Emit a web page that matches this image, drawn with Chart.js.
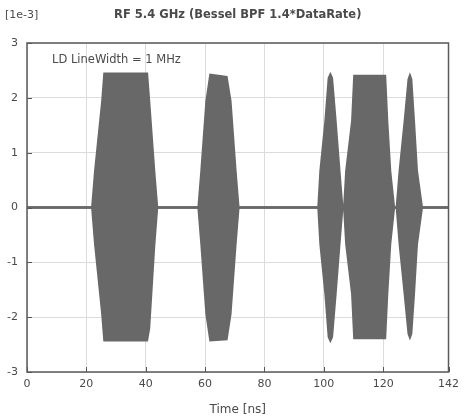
<!DOCTYPE html>
<html>
<head>
<meta charset="utf-8">
<script src="https://cdn.jsdelivr.net/npm/chart.js@4/dist/chart.umd.min.js"></script>
<style>
  html, body { margin: 0; padding: 0; background: #fff; }
  #wrap { width: 465px; height: 417px; }
</style>
</head>
<body>
<div id="wrap"><canvas id="rfChart"></canvas></div>
<script>
// envelope of the RF signal, amplitude in units of 1e-3
const timeNs = [0, 22.0, 23.0, 25.4, 26.1, 40.4, 41.1, 42.8, 43.8,
  57.8, 58.8, 60.5, 61.8, 67.2, 68.5, 70.2, 71.2,
  98.2, 98.9, 100.6, 101.7, 102.2, 102.7, 103.9, 105.2, 106.2,
  106.9, 107.6, 109.6, 110.3, 120.6, 121.3, 122.3, 123.6,
  124.6, 125.6, 127.3, 128.6, 129.0, 129.4, 130.3, 131.3, 133.0, 142];
const upperEnv = [0, 0, 0.67, 1.94, 2.44, 2.44, 1.94, 0.67, 0,
  0, 0.67, 1.94, 2.42, 2.38, 1.94, 0.67, 0,
  0, 0.67, 1.58, 2.36, 2.42, 2.36, 1.58, 0.67, 0,
  0, 0.67, 1.58, 2.4, 2.4, 1.58, 0.67, 0,
  0, 0.67, 1.58, 2.34, 2.4, 2.34, 1.58, 0.67, 0, 0];
const lowerEnv = [0, 0, -0.67, -1.94, -2.42, -2.42, -2.2, -0.7, 0,
  0, -0.67, -1.94, -2.42, -2.4, -1.94, -0.67, 0,
  0, -0.67, -1.58, -2.36, -2.42, -2.36, -1.58, -0.67, 0,
  0, -0.67, -1.58, -2.38, -2.38, -1.58, -0.67, 0,
  0, -0.67, -1.58, -2.3, -2.36, -2.3, -1.58, -0.67, 0, 0];
const xTicks = [0, 20, 40, 60, 80, 100, 120, 142];
const yTicks = [-3, -2, -1, 0, 1, 2, 3];

const chartTitle = 'RF 5.4 GHz (Bessel BPF 1.4*DataRate)';
const unitLabel = '[1e-3]';
const noteText = 'LD LineWidth = 1 MHz';
const xTitle = 'Time [ns]';

const toPts = (ys) => timeNs.map((t, i) => ({ x: t, y: ys[i] }));
const waveGray = '#686868';
const textGray = '#4a4a4a';
const font = '"DejaVu Sans", Verdana, sans-serif';

const framePlugin = {
  id: 'frame',
  beforeDraw(chart) {
    const c = chart.ctx;
    c.save();
    c.fillStyle = '#fff';
    c.fillRect(0, 0, chart.width, chart.height);
    c.restore();
  },
  afterDraw(chart) {
    const c = chart.ctx;
    const a = chart.chartArea;
    const xs = chart.scales.x, ys = chart.scales.y;
    c.save();
    // inward tick marks
    c.strokeStyle = '#555';
    c.lineWidth = 1;
    c.beginPath();
    xTicks.forEach(v => {
      const px = Math.round(xs.getPixelForValue(v)) + 0.5;
      c.moveTo(px, a.bottom); c.lineTo(px, a.bottom - 5);
    });
    yTicks.forEach(v => {
      const py = Math.round(ys.getPixelForValue(v)) + 0.5;
      c.moveTo(a.left, py); c.lineTo(a.left + 5, py);
    });
    c.stroke();
    // frame
    c.strokeStyle = '#5a5a5a';
    c.lineWidth = 1.5;
    c.strokeRect(a.left, a.top, a.right - a.left, a.bottom - a.top);
    // texts
    c.fillStyle = textGray;
    c.textBaseline = 'middle';
    c.font = '11px ' + font;
    c.textAlign = 'left';
    c.fillText(unitLabel, 5, 15);
    c.font = '11.5px ' + font;
    c.fillText(noteText, a.left + 25, 60);
    c.font = 'bold 11.5px ' + font;
    c.textAlign = 'center';
    c.fillText(chartTitle, (a.left + a.right) / 2, 15);
    c.restore();
  }
};

new Chart(document.getElementById('rfChart'), {
  type: 'line',
  data: {
    datasets: [
      {
        data: toPts(upperEnv),
        borderColor: waveGray,
        backgroundColor: waveGray,
        borderWidth: 2.5,
        pointRadius: 0,
        fill: '+1',
        tension: 0
      },
      {
        data: toPts(lowerEnv),
        borderColor: waveGray,
        backgroundColor: waveGray,
        borderWidth: 2.5,
        pointRadius: 0,
        fill: false,
        tension: 0
      }
    ]
  },
  options: {
    responsive: true,
    maintainAspectRatio: false,
    animation: false,
    layout: { padding: { top: 43, right: 12, left: 0, bottom: 0 } },
    plugins: {
      legend: { display: false },
      tooltip: { enabled: false },
      title: { display: false }
    },
    scales: {
      x: {
        type: 'linear',
        min: 0,
        max: 142,
        afterBuildTicks: (s) => { s.ticks = xTicks.map(v => ({ value: v })); },
        afterFit: (s) => { s.height = 45; },
        grid: { color: '#dcdcdc', drawTicks: false },
        border: { display: false },
        ticks: { color: textGray, padding: 6, font: { size: 11, family: font }, maxRotation: 0 },
        title: { display: true, text: xTitle, color: textGray, padding: { top: 4, bottom: 0 }, font: { size: 12, family: font } }
      },
      y: {
        min: -3,
        max: 3,
        afterBuildTicks: (s) => { s.ticks = yTicks.map(v => ({ value: v })); },
        afterFit: (s) => { s.width = 27; },
        grid: { color: '#dcdcdc', drawTicks: false },
        border: { display: false },
        ticks: { color: textGray, padding: 9, font: { size: 11, family: font } }
      }
    }
  },
  plugins: [framePlugin]
});
</script>
</body>
</html>
